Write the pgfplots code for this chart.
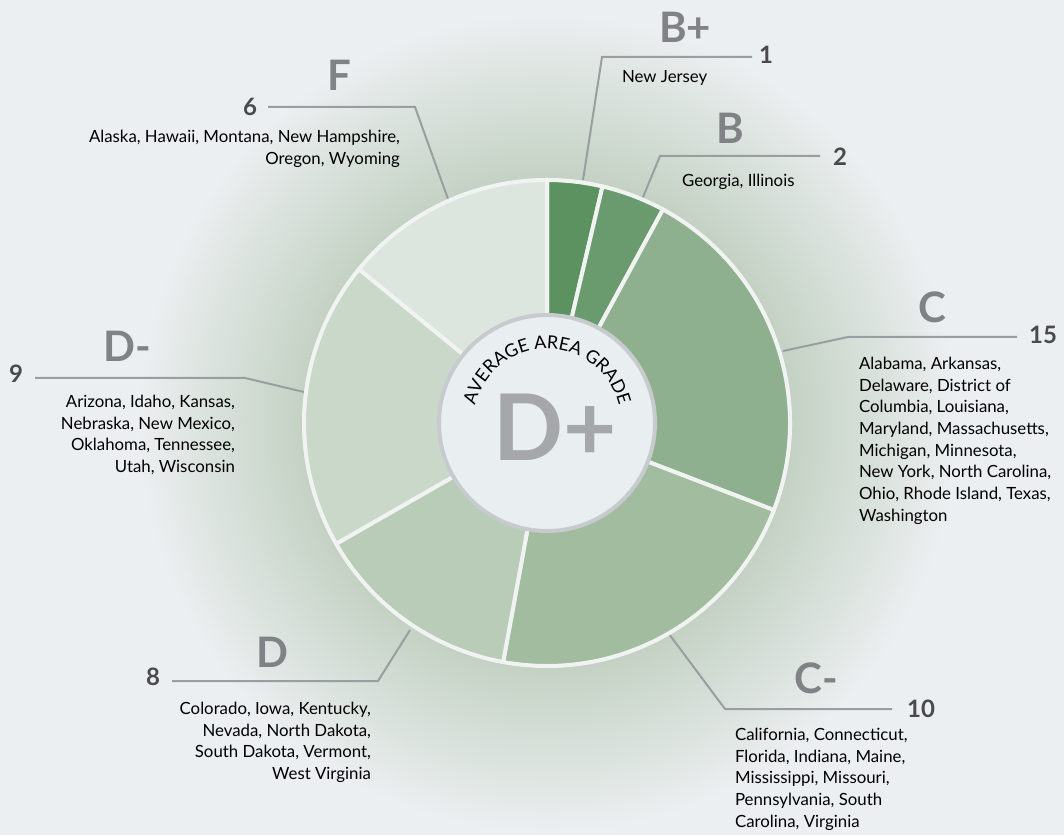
\documentclass[border=0pt]{standalone}
\usepackage{pgfplots}
\usepackage{pgfplotstable}
\usepackage{fontspec}
\pgfplotsset{compat=1.18}
\usetikzlibrary{decorations.text}
\setmainfont{Lato}

\definecolor{bgc}{RGB}{236,239,241}
\definecolor{glowc}{RGB}{188,204,187}
\definecolor{cBp}{RGB}{91,146,96}
\definecolor{cB}{RGB}{105,155,110}
\definecolor{cC}{RGB}{143,176,142}
\definecolor{cCm}{RGB}{161,188,159}
\definecolor{cD}{RGB}{184,204,183}
\definecolor{cDm}{RGB}{201,216,201}
\definecolor{cF}{RGB}{221,229,223}
\definecolor{sepc}{RGB}{240,243,241}
\definecolor{hubc}{RGB}{233,238,241}
\definecolor{hubb}{RGB}{200,203,206}
\definecolor{leadc}{RGB}{155,158,161}
\definecolor{gradec}{RGB}{128,130,133}
\definecolor{numc}{RGB}{74,74,76}
\definecolor{bigc}{RGB}{165,167,170}

\pgfdeclareradialshading{glow}{\pgfpoint{0bp}{0bp}}{%
  color(0bp)=(glowc); color(13bp)=(glowc); color(25bp)=(bgc); color(50bp)=(bgc)}

\newcommand\statefont{\fontsize{8.4}{10.85}\selectfont}
\newcommand\gradefont{\fontsize{21}{21}\selectfont\bfseries}
\newcommand\numfont{\fontsize{12}{12}\selectfont\bfseries}

% grade, number of states, slice drawn from a0 to a1 (degrees clockwise from top)
\pgfplotstableread{
grade count a0 a1 col
B+ 1 0 13.2 cBp
B 2 13.2 28.5 cB
C 15 28.5 111 cC
C- 10 111 190.4 cCm
D 8 190.4 240.2 cD
D- 9 240.2 309.3 cDm
F 6 309.3 360 cF
}\slices

\begin{document}
\begin{tikzpicture}
\begin{axis}[
    width=532pt, height=417.5pt, scale only axis,
    xmin=0, xmax=1064, ymin=0, ymax=835,
    axis lines=none, ticks=none, clip=false,
    every node/.style={inner sep=0pt},
]
\coordinate (bl) at (axis cs:0,0);
\coordinate (tr) at (axis cs:1064,835);
\fill[bgc] (axis cs:0,0) rectangle (axis cs:1064,835);
\shade[shading=glow] (axis cs:547,412) circle[radius=205pt];

% leader lines
\begin{scope}[leadc, line width=1pt]
\draw (axis cs:752,778) -- (axis cs:602,778) -- (axis cs:583,655);
\draw (axis cs:820,679) -- (axis cs:660,679) -- (axis cs:641,633);
\draw (axis cs:268,728) -- (axis cs:415,728) -- (axis cs:448,636);
\draw (axis cs:35,457) -- (axis cs:245,457) -- (axis cs:304,443);
\draw (axis cs:1017,498) -- (axis cs:848,498) -- (axis cs:783,484);
\draw (axis cs:172,154) -- (axis cs:378,154) -- (axis cs:410,205);
\draw (axis cs:892,126) -- (axis cs:725,126) -- (axis cs:669,201);
\end{scope}

% slices
\pgfplotsinvokeforeach{0,...,6}{
  \pgfplotstablegetelem{#1}{a0}\of\slices \edef\sa{\pgfplotsretval}
  \pgfplotstablegetelem{#1}{a1}\of\slices \edef\sb{\pgfplotsretval}
  \pgfplotstablegetelem{#1}{col}\of\slices \edef\sc{\pgfplotsretval}
  \pgfmathsetmacro\ta{90-\sa}
  \pgfmathsetmacro\tb{90-\sb}
  \edef\temp{\noexpand\fill[\sc, draw=sepc, line width=2pt, line join=round]
    (axis cs:547,412) -- ++(\ta:121.5pt)
    arc[start angle=\ta, end angle=\tb, radius=121.5pt] -- cycle;}
  \temp
}
\draw[sepc, line width=1.6pt] (axis cs:547,412) circle[radius=121.5pt];

% hub
\filldraw[fill=hubc, draw=hubb, line width=2pt] (axis cs:547,412) circle[radius=54pt];
\path[decorate, decoration={text along path, text align=center,
    text={|\fontsize{9}{9}\selectfont|AVERAGE AREA GRADE}}]
  (axis cs:547,412) ++(172:37pt) arc[start angle=172, end angle=8, radius=37pt];
\node[text=bigc, font=\fontsize{46}{46}\selectfont\bfseries] at (axis cs:555,408) {D+};

% grade letters
\begin{scope}[every node/.append style={text=gradec, font=\gradefont}]
\node at (axis cs:685,808) {B+};
\node at (axis cs:730,707) {B};
\node at (axis cs:932,528) {C};
\node at (axis cs:816,157) {C-};
\node at (axis cs:272,183) {D};
\node at (axis cs:127,489) {D-};
\node at (axis cs:339,760) {F};
\end{scope}

% counts
\begin{scope}[every node/.append style={text=numc, font=\numfont}]
\node at (axis cs:766,780) {1};
\node at (axis cs:840,678) {2};
\node at (axis cs:1043,500) {15};
\node at (axis cs:921,126) {10};
\node at (axis cs:153,158) {8};
\node at (axis cs:16,461) {9};
\node at (axis cs:250,728) {6};
\end{scope}

% states
\begin{scope}[every node/.append style={font=\statefont}]
\node[anchor=west] at (axis cs:615,757) {New Jersey};
\node[anchor=west] at (axis cs:675,653) {Georgia, Illinois};
\node[anchor=north east, align=right] at (axis cs:407,712)
  {Alaska, Hawaii, Montana, New Hampshire,\\Oregon, Wyoming};
\node[anchor=north east, align=right] at (axis cs:242,447)
  {Arizona, Idaho, Kansas,\\Nebraska, New Mexico,\\Oklahoma, Tennessee,\\Utah, Wisconsin};
\node[anchor=north west, align=left] at (axis cs:852,485)
  {Alabama, Arkansas,\\Delaware, District of\\Columbia, Louisiana,\\Maryland, Massachusetts,\\Michigan, Minnesota,\\New York, North Carolina,\\Ohio, Rhode Island, Texas,\\Washington};
\node[anchor=north east, align=right] at (axis cs:378,140)
  {Colorado, Iowa, Kentucky,\\Nevada, North Dakota,\\South Dakota, Vermont,\\West Virginia};
\node[anchor=north west, align=left] at (axis cs:728,114)
  {California, Connecticut,\\Florida, Indiana, Maine,\\Mississippi, Missouri,\\Pennsylvania, South\\Carolina, Virginia};
\end{scope}
\end{axis}
\pgfresetboundingbox
\useasboundingbox (bl) rectangle (tr);
\end{tikzpicture}
\end{document}
